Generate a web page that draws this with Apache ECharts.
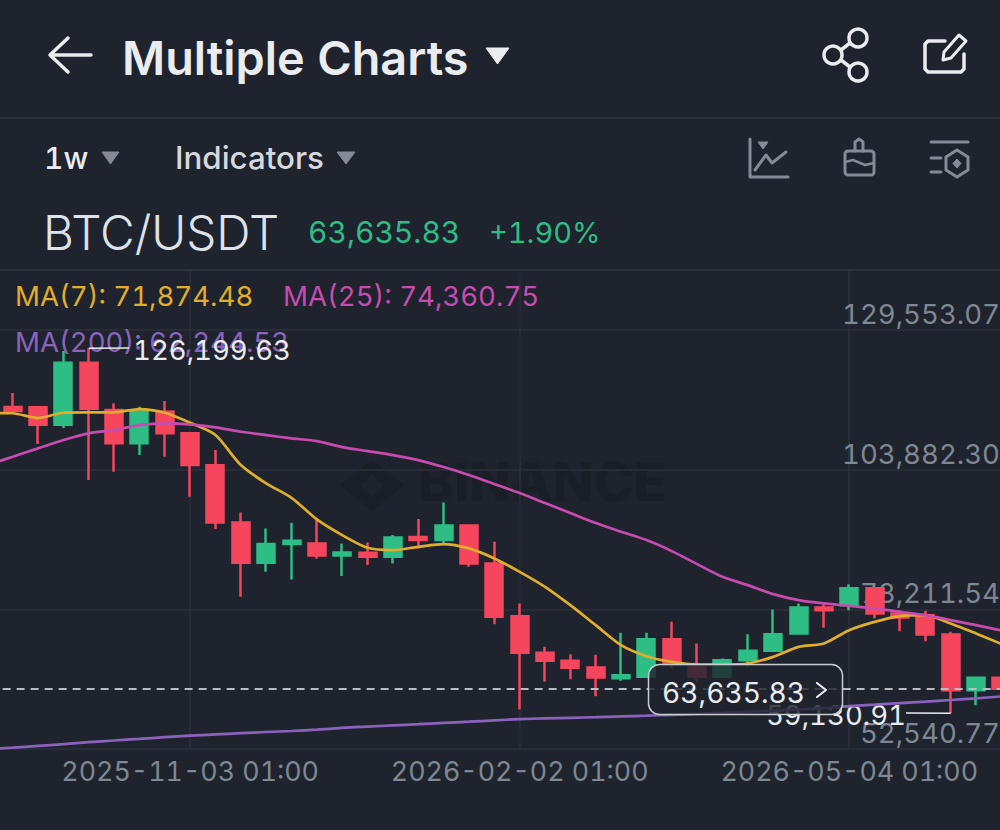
<!DOCTYPE html>
<html>
<head>
<meta charset="utf-8">
<title>Multiple Charts</title>
<style>
  html, body { margin: 0; padding: 0; background: #1e232d; }
  #chart { width: 1000px; height: 830px; }
  #chart text { font-feature-settings: 'tnum' 1; font-variant-numeric: tabular-nums; }
</style>
<script src="https://cdn.jsdelivr.net/npm/echarts@6/dist/echarts.min.js"></script>
</head>
<body>
<div id="chart"></div>
<script>
// Weekly BTC/USDT candles with three moving averages.
const weeks = [
  '2025-09-08 01:00','2025-09-15 01:00','2025-09-22 01:00','2025-09-29 01:00','2025-10-06 01:00','2025-10-13 01:00',
  '2025-10-20 01:00','2025-10-27 01:00','2025-11-03 01:00','2025-11-10 01:00','2025-11-17 01:00','2025-11-24 01:00',
  '2025-12-01 01:00','2025-12-08 01:00','2025-12-15 01:00','2025-12-22 01:00','2025-12-29 01:00','2026-01-05 01:00',
  '2026-01-12 01:00','2026-01-19 01:00','2026-01-26 01:00','2026-02-02 01:00','2026-02-09 01:00','2026-02-16 01:00',
  '2026-02-23 01:00','2026-03-02 01:00','2026-03-09 01:00','2026-03-16 01:00','2026-03-23 01:00','2026-03-30 01:00',
  '2026-04-06 01:00','2026-04-13 01:00','2026-04-20 01:00','2026-04-27 01:00','2026-05-04 01:00','2026-05-11 01:00',
  '2026-05-18 01:00','2026-05-25 01:00','2026-06-01 01:00','2026-06-08 01:00','2026-06-15 01:00'
];
const labelledWeeks = ['2025-11-03 01:00', '2026-02-02 01:00', '2026-05-04 01:00'];

// [open, close, low, high]
const candles = [
  [116000,115000,113000,117000],
  [115400,114665,114114,117974],[115345,112147,108600,115456],[112147,123543,111541,125693],[123543,115088,101983,126199.63],
  [114849,108728,103509,116080],[108728,114610,106578,115456],[114537,110566,106266,116503],[110566,104740,98914,110677],
  [104685,94208,92977,107497],[94208,86783,80534,96046],[86783,90220,85129,93105],[90220,90826,83732,94135],
  [90348,88143,87518,94760],[88143,88694,84338,90348],[88621,87886,86360,90532],[87886,91451,86672,91874],
  [91506,90955,89429,94815],[90955,93657,90036,97884],[93657,86672,86048,93712],[86672,76858,75516,90643],
  [76986,70241,59838,79320],[70241,68770,64911,71344],[68770,67484,65407,70002],[67557,65719,62282,69873],
  [65591,66142,65094,73917],[65866,72722,65682,73917],[72759,68164,67429,75939],[67557,65830,64911,71968],
  [65830,68899,65800,69211],[68899,70608,67668,73678],[70608,73678,70425,78218],[73806,78585,73678,79320],
  [78585,78089,74836,79376],[79008,82133,78089,82868],[82133,77482,76563,82225],[77482,76747,74229,78089],
  [77170,73623,72391,77960],[73623,63385,59130.91,74101],[63385,65646,60628,65700],[65646,63635.83,63500,65700]
];

const ma7 = [
  114298,114260,113379,114353,114426,114430,115033,114353,112515,110254,104740,101376,98730,94760,91874,89540,89117,
  89724,90220,89429,87591,85129,82372,79008,75332,71656,69634,68587,68109,68105,68292,69506,71344,71968,74413,75939,
  76986,77170,75644,73806,71874.48
];
const ma25 = [
  104740,106266,107809,109335,110566,111173,112092,112404,112221,111669,110861,110254,109647,109151,108048,107313,106578,
  105659,104372,102902,101248,99594,97756,95918,94080,92481,90955,88933,86544,84210,82684,81030,79927,79320,78879,78401,
  77777,77170,76251,75332,74360.75
];
const ma200 = [
  52580,52816,53147,53460,53827,54140,54434,54746,55022,55261,55482,55702,55886,56125,56456,56695,56915,57136,57375,
  57595,57834,58055,58202,58312,58422,58569,58698,58864,59029,59213,59415,59617,59856,60077,60444,60720,60996,61272,
  61584,61878,62244.53
];

const priceLabels = [129553.07, 103882.30, 78211.54, 52540.77];
const priceLines = [140578.7, 129553.07, 103882.30, 78211.54, 52540.77];
const lastPrice = 63635.83;
const changePercent = 1.90;

const BG = '#1e232d';
const UP = '#2ebd85';
const DOWN = '#f6465d';
const GOLD = '#e0ae2c';
const PINK = '#c84bb0';
const PURPLE = '#8a63bd';
const GRID = '#2b303a';
const MUTED = '#7f8793';
const WHITE = '#eaecef';
const ICON = '#858b96';
const FONT = 'Inter, "Noto Sans", sans-serif';

const money = v => v.toLocaleString('en-US', { minimumFractionDigits: 2, maximumFractionDigits: 2 });
const isLabelled = (_, name) => labelledWeeks.includes(name);

const highest = Math.max(...candles.map(c => c[3]));
const lowest = Math.min(...candles.map(c => c[2]));
const highWeek = weeks[candles.findIndex(c => c[3] === highest)];
const lowWeek = weeks[candles.findIndex(c => c[2] === lowest)];

const text = (x, y, str, size, fill, weight, extra) => Object.assign({
  type: 'text', x, y, z: 1,
  style: { text: str, fill, fontSize: size, fontWeight: weight || 400, fontFamily: FONT, textVerticalAlign: 'middle' }
}, extra || {});
const path = (pts, color, width) => ({
  type: 'polyline', z: 1,
  shape: { points: pts },
  style: { fill: 'none', stroke: color, lineWidth: width, lineCap: 'round', lineJoin: 'round' }
});
const tri = (pts, color) => ({ type: 'polygon', z: 1, shape: { points: pts }, style: { fill: color, stroke: color, lineWidth: 1, lineJoin: 'round' } });
const ring = (cx, cy, r, color, width) => ({ type: 'circle', z: 1, shape: { cx, cy, r }, style: { fill: 'none', stroke: color, lineWidth: width } });
const bar = (x, y, w, h, color, r) => ({ type: 'rect', z: 1, shape: { x, y, width: w, height: h, r: r || 0 }, style: { fill: color } });

const page = [
  // header rows
  bar(0, 117, 1000, 2, GRID),
  bar(0, 269, 1000, 2, GRID),
  path([[68,38],[50,55],[68,72]], WHITE, 3.5),
  path([[51,55],[91,55]], WHITE, 3.5),
  text(122, 58, 'Multiple Charts', 46.8, WHITE, 600),
  tri([[486,48],[509,48],[497.5,64]], WHITE),
  ring(833, 55, 9, WHITE, 3.5), ring(858, 38, 9, WHITE, 3.5), ring(858, 72, 9, WHITE, 3.5),
  path([[841,50],[850,43]], WHITE, 3.5),
  path([[841,60],[850,67]], WHITE, 3.5),
  path([[945,41],[928,41],[925,44],[925,69],[928,72],[961,72],[964,69],[964,54]], WHITE, 3.5),
  path([[943,60],[944,52],[959,35],[966,41],[951,58],[943,60]], WHITE, 3),

  text(44, 158, '1w', 30, WHITE, 500),
  tri([[102,152],[119,152],[110.5,164]], ICON),
  text(175, 158, 'Indicators', 31.3, '#d5d8dd', 500),
  tri([[337,152],[355,152],[346,164]], ICON),

  // toolbar icons
  path([[750,139],[750,177],[788,177]], ICON, 3),
  tri([[758,142],[768,142],[763,149]], ICON),
  path([[755,170],[766,155],[772,163],[786,152]], ICON, 3),
  path([[855,151],[855,142],[859,139],[863,142],[863,151]], ICON, 3),
  { type: 'rect', z: 1, shape: { x: 845, y: 151, width: 29, height: 24, r: 3 }, style: { fill: 'none', stroke: ICON, lineWidth: 3 } },
  path([[845,162],[853,160],[865,165],[874,163]], ICON, 2.5),
  path([[931,142],[968,142]], ICON, 3),
  path([[931,158],[941,158]], ICON, 3),
  path([[931,172],[941,172]], ICON, 3),
  { type: 'polygon', z: 1, shape: { points: [[957,150],[968,157],[968,170],[957,177],[946,170],[946,157]] }, style: { fill: 'none', stroke: ICON, lineWidth: 3, lineJoin: 'round' } },
  tri([[957,159],[961,163.5],[957,168],[953,163.5]], ICON),

  // symbol line
  text(43, 232, 'BTC/USDT', 47.6, '#dfe2e6', 300),
  text(308, 232, money(lastPrice), 30, UP, 400),
  text(489, 232, '+' + changePercent.toFixed(2) + '%', 29, UP, 400),

  // moving-average readouts
  text(15, 296, 'MA(7): ' + money(ma7[ma7.length - 1]), 27.6, GOLD, 400),
  text(283, 296, 'MA(25): ' + money(ma25[ma25.length - 1]), 27.6, PINK, 400),
  text(15, 342, 'MA(200): ' + money(ma200[ma200.length - 1]), 27.6, PURPLE, 400),

  // faint exchange mark behind the candles
  { type: 'polygon', z: 0, shape: { points: [[372,460],[405,485],[372,511],[339,485]] }, style: { fill: '#1a1f27' } },
  { type: 'polygon', z: 0, shape: { points: [[372,474],[384,485],[372,496],[360,485]] }, style: { fill: BG } },
  text(418, 481, 'BINANCE', 54, '#1a1f27', 800, { z: 0 }),

  // last-price tag
  { type: 'rect', z: 20, shape: { x: 648.5, y: 664.5, width: 194, height: 50, r: 11 }, style: { fill: 'rgba(30,35,45,0.82)', stroke: '#c9ccd1', lineWidth: 1.5 } },
  text(662, 693, money(lastPrice), 28.2, WHITE, 400, { z: 21 }),
  Object.assign(path([[817,683],[826,690],[817,697]], WHITE, 2.2), { z: 21 })
];

const chart = echarts.init(document.getElementById('chart'), null, { renderer: 'svg' });

const maSeries = (name, data, color) => ({
  name, type: 'line', data, smooth: 0.25, showSymbol: false, symbol: 'none', silent: true, z: 5,
  lineStyle: { color, width: 2.7 }
});

chart.setOption({
  animation: false,
  backgroundColor: BG,
  grid: { left: -25.35, width: 1039.35, top: 270, height: 479.2, outerBoundsMode: 'none' },
  xAxis: {
    type: 'category',
    data: weeks,
    boundaryGap: true,
    axisLine: { show: false },
    axisTick: { show: false, alignWithLabel: true, interval: isLabelled },
    splitLine: { show: true, alignWithLabel: true, interval: isLabelled, lineStyle: { color: GRID, width: 1.5 } },
    axisLabel: {
      interval: isLabelled, margin: 8, color: MUTED,
      fontSize: 26.8, fontFamily: FONT, hideOverlap: false
    }
  },
  yAxis: {
    type: 'value',
    position: 'right',
    scale: true,
    min: 52540.77,
    max: 140578.7,
    axisLine: { show: false },
    axisTick: { show: false, customValues: priceLines },
    splitLine: { show: true, lineStyle: { color: GRID, width: 1.5 } },
    axisLabel: {
      inside: true, margin: 14, customValues: priceLabels,
      color: MUTED, fontSize: 27.6, fontFamily: FONT, verticalAlign: 'bottom', lineHeight: 32,
      formatter: v => money(v)
    }
  },
  graphic: { elements: page },
  series: [
    {
      type: 'candlestick',
      data: candles,
      barWidth: 17.5,
      z: 3,
      itemStyle: { color: UP, color0: DOWN, borderColor: UP, borderColor0: DOWN, borderWidth: 2.5 },
      markLine: {
        silent: true,
        symbol: 'none',
        animation: false,
        label: { show: false },
        data: [
          [
            { coord: [highWeek, highest], lineStyle: { color: WHITE, width: 1.5, type: 'solid' } },
            { x: 129, y: 348, label: { show: true, position: 'end', distance: 4, offset: [0, 2], formatter: money(highest), color: WHITE, fontSize: 27.6, fontFamily: FONT } }
          ],
          [
            { coord: [lowWeek, lowest], lineStyle: { color: WHITE, width: 1.5, type: 'solid' } },
            { x: 906, y: 713, label: { show: true, position: 'end', distance: 0, offset: [0, 2], formatter: money(lowest), color: WHITE, fontSize: 27.6, fontFamily: FONT } }
          ],
          {
            yAxis: lastPrice,
            lineStyle: { color: '#b9bcc2', width: 2, type: [8, 6] }
          }
        ]
      }
    },
    maSeries('MA(7)', ma7, GOLD),
    maSeries('MA(25)', ma25, PINK),
    maSeries('MA(200)', ma200, PURPLE)
  ]
});
</script>
</body>
</html>
